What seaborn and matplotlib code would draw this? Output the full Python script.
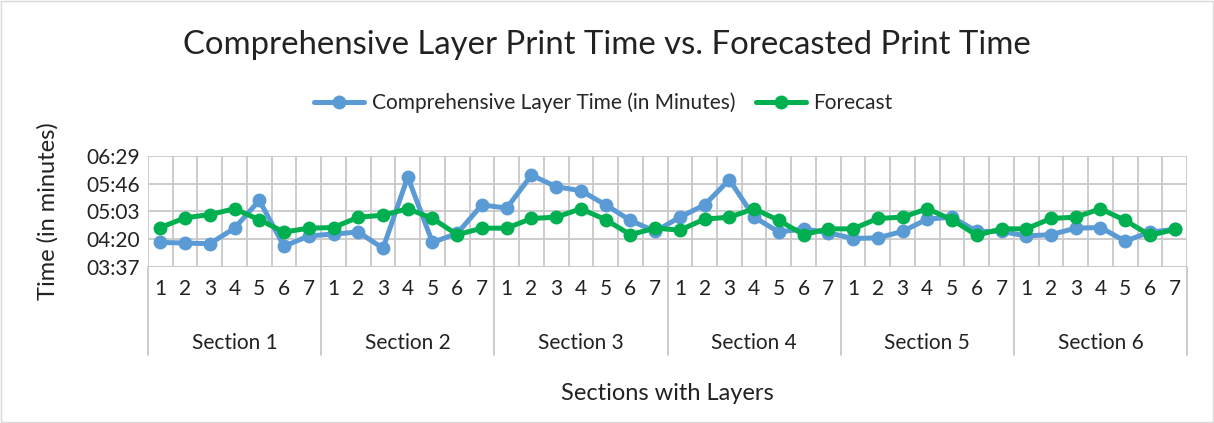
import numpy as np
import pandas as pd
import matplotlib
matplotlib.use('Agg')
import matplotlib.pyplot as plt
import matplotlib.transforms as mtransforms
from matplotlib.ticker import FixedLocator, FuncFormatter
import seaborn as sns

# Layer print times, in seconds (shown as mm:ss on the axis)
sections = ['Section 1', 'Section 2', 'Section 3', 'Section 4', 'Section 5', 'Section 6']
layers = [1, 2, 3, 4, 5, 6, 7]

actual_time = [
    255, 254, 253, 277, 320, 249, 265,   # Section 1
    268, 271, 246, 356, 255, 269, 313,   # Section 2
    308, 359, 341, 335, 313, 289, 272,   # Section 3
    294, 313, 352, 294, 271, 276, 270,   # Section 4
    261, 262, 272, 291, 294, 272, 272,   # Section 5
    265, 267, 277, 278, 257, 271, 275,   # Section 6
]
forecast_time = [
    278, 293, 298, 307, 290, 271, 277,
    278, 294, 297, 307, 292, 267, 277,
    277, 292, 294, 307, 290, 267, 277,
    274, 291, 294, 307, 289, 267, 276,
    276, 292, 294, 307, 290, 266, 276,
    276, 292, 294, 307, 289, 266, 275,
]
y_ticks = [217, 260, 303, 346, 389]

blue = '#5B9BD5'
green = '#00B050'
grid_col = '#C8C8C8'
text_col = '#222222'

sns.set_theme(style='white')
plt.rcParams['font.family'] = ['Lato', 'DejaVu Sans']

n = len(sections) * len(layers)
df = pd.DataFrame({
    'idx': np.arange(n),
    'Comprehensive Layer Time (in Minutes)': actual_time,
    'Forecast': forecast_time,
})
long = df.melt(id_vars='idx', var_name='series', value_name='time')

fig = plt.figure(figsize=(12.14, 4.23), dpi=100)
ax = fig.add_axes([0.1219, 0.3688, 0.8559, 0.2631])

sns.lineplot(data=long, x='idx', y='time', hue='series',
             palette=[blue, green], marker='o', markersize=10,
             markeredgewidth=0, linewidth=3.6, ax=ax, legend=False)

ax.set_xlim(-0.5, n - 0.5)
ax.set_ylim(y_ticks[0], y_ticks[-1])
ax.yaxis.set_major_locator(FixedLocator(y_ticks))
ax.yaxis.set_major_formatter(FuncFormatter(lambda v, p: f'{int(v) // 60:02d}:{int(v) % 60:02d}'))
ax.set_xticks(np.arange(n))
ax.set_xticklabels([str(l) for l in layers] * len(sections), fontsize=15, color=text_col)
ax.set_xticks(np.arange(-0.5, n, 1.0), minor=True)
ax.tick_params(axis='x', which='both', length=0, pad=9)
ax.tick_params(axis='y', length=0, labelsize=15, labelcolor=text_col, pad=6)

ax.grid(axis='y', which='major', color=grid_col, linewidth=1.3)
ax.grid(axis='x', which='minor', color=grid_col, linewidth=1.3)
ax.set_axisbelow(True)
for s in ax.spines.values():
    s.set_visible(False)
ax.axhline(y_ticks[0], color=grid_col, linewidth=1.3, zorder=0)

ax.set_xlabel('Sections with Layers', fontsize=17, color=text_col, labelpad=60)
ax.set_ylabel('Time (in minutes)', fontsize=17, color=text_col, labelpad=20)

# multi-level category axis: section labels and separators
trans = mtransforms.blended_transform_factory(ax.transData, ax.transAxes)
for i, name in enumerate(sections):
    ax.text(i * 7 + 3, -0.68, name, transform=trans, ha='center', va='center',
            fontsize=15, color=text_col)
for i in range(len(sections) + 1):
    ax.plot([i * 7 - 0.5, i * 7 - 0.5], [0, -0.79], transform=trans,
            color=grid_col, linewidth=1.3, clip_on=False)

fig.text(0.5, 0.894, 'Comprehensive Layer Print Time vs. Forecasted Print Time',
         ha='center', va='center', fontsize=23.7, color=text_col)

handles = [plt.Line2D([], [], color=blue, marker='o', markersize=10, linewidth=3.6, markeredgewidth=0),
           plt.Line2D([], [], color=green, marker='o', markersize=10, linewidth=3.6, markeredgewidth=0)]
fig.legend(handles, ['Comprehensive Layer Time (in Minutes)', 'Forecast'],
           loc='center', bbox_to_anchor=(0.497, 0.757), ncol=2, frameon=False,
           fontsize=15, handlelength=2.4, columnspacing=1.0, handletextpad=0.35)

fig.patches.append(plt.Rectangle((0.001, 0.002), 0.998, 0.996, transform=fig.transFigure,
                                 fill=False, edgecolor='#D9D9D9', linewidth=1))

plt.savefig('out.png', dpi=100)
plt.close()
